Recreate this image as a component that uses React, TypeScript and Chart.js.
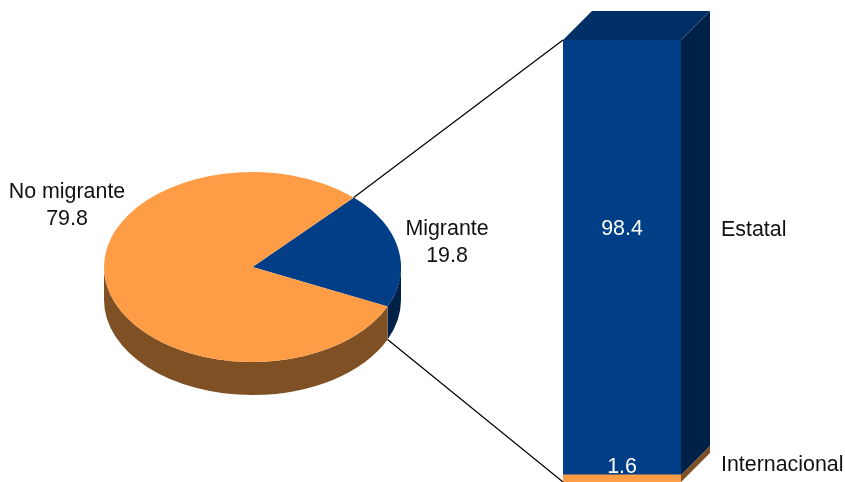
import React, { useEffect, useRef } from "react";
import { Chart, registerables } from "chart.js";

Chart.register(...registerables);

const pieCategories = ["Migrante", "No migrante"];
const pieValues = [19.8, 79.8];
const barCategories = ["Internacional", "Estatal"];
const barValues = [1.6, 98.4];

const FONT = '"Liberation Sans", Arial, sans-serif';
const TEXT = "#111";
const FRONT = ["#FF9D47", "#003F87"];
const SIDE = ["#7F5024", "#002147"];
const TOP_FACE = "#002F66";
const PIE_FRONT = ["#003F87", "#FF9D47"];
const PIE_SIDE = ["#002147", "#7F5024"];
const PIE_DEPTH = 33;
const Y_RATIO = 95 / 148.5;
const BAR_DEPTH = 29;
const FONT_SIZE = 21.4;

function text(ctx: CanvasRenderingContext2D, s: string, x: number, y: number, align: CanvasTextAlign, color = TEXT) {
  ctx.save();
  ctx.font = `${FONT_SIZE}px ${FONT}`;
  ctx.fillStyle = color;
  ctx.textAlign = align;
  ctx.textBaseline = "middle";
  ctx.fillText(s, x, y);
  ctx.restore();
}

const pie3d = {
  id: "pie3d",
  beforeDatasetsDraw(chart: any) {
    const ctx = chart.ctx;
    const arcs = chart.getDatasetMeta(0).data;
    arcs.forEach((arc: any, i: number) => {
      const lo = Math.max(arc.startAngle, 0);
      const hi = Math.min(arc.endAngle, Math.PI);
      if (hi <= lo) return;
      const rx = arc.outerRadius;
      const ry = rx * Y_RATIO;
      ctx.save();
      ctx.beginPath();
      ctx.ellipse(arc.x, arc.y, rx, ry, 0, lo, hi);
      ctx.ellipse(arc.x, arc.y + PIE_DEPTH, rx, ry, 0, hi, lo, true);
      ctx.closePath();
      ctx.fillStyle = PIE_SIDE[i];
      ctx.fill();
      ctx.restore();
    });
    const cy = arcs[0].y;
    ctx.save();
    ctx.translate(0, cy);
    ctx.scale(1, Y_RATIO);
    ctx.translate(0, -cy);
  },
  afterDatasetsDraw(chart: any) {
    const ctx = chart.ctx;
    ctx.restore();
    text(ctx, pieCategories[1], 67, 192, "center");
    text(ctx, pieValues[1].toFixed(1), 67, 219, "center");
    text(ctx, pieCategories[0], 447, 229, "center");
    text(ctx, pieValues[0].toFixed(1), 447, 256, "center");
  },
};

function makeBar3d(getPie: () => any) {
  return {
    id: "bar3d",
    beforeDatasetsDraw(chart: any) {
      const ctx = chart.ctx;
      const y = chart.scales.y;
      const rects = chart.data.datasets.map((_: any, i: number) => chart.getDatasetMeta(i).data[0]);
      const half = rects[0].width / 2;
      const left = rects[0].x - half;
      const right = rects[0].x + half;
      let base = 0;
      rects.forEach((_: any, i: number) => {
        const bottom = y.getPixelForValue(base);
        base += barValues[i];
        const top = y.getPixelForValue(base);
        ctx.fillStyle = SIDE[i];
        ctx.beginPath();
        ctx.moveTo(right, bottom);
        ctx.lineTo(right + BAR_DEPTH, bottom - BAR_DEPTH);
        ctx.lineTo(right + BAR_DEPTH, top - BAR_DEPTH);
        ctx.lineTo(right, top);
        ctx.closePath();
        ctx.fill();
      });
      const top = y.getPixelForValue(base);
      ctx.fillStyle = TOP_FACE;
      ctx.beginPath();
      ctx.moveTo(left, top);
      ctx.lineTo(left + BAR_DEPTH, top - BAR_DEPTH);
      ctx.lineTo(right + BAR_DEPTH, top - BAR_DEPTH);
      ctx.lineTo(right, top);
      ctx.closePath();
      ctx.fill();
    },
    afterDatasetsDraw(chart: any) {
      const ctx = chart.ctx;
      const y = chart.scales.y;
      const rect = chart.getDatasetMeta(0).data[0];
      const left = rect.x - rect.width / 2;
      const pieChart = getPie();
      const arc = pieChart.getDatasetMeta(0).data[0];
      const rx = arc.outerRadius;
      const ry = rx * Y_RATIO;
      const p1 = [arc.x + rx * Math.cos(arc.startAngle), arc.y + ry * Math.sin(arc.startAngle)];
      const p2 = [arc.x + rx * Math.cos(arc.endAngle), arc.y + ry * Math.sin(arc.endAngle) + PIE_DEPTH];
      ctx.save();
      ctx.strokeStyle = "#000";
      ctx.lineWidth = 1.2;
      ctx.beginPath();
      ctx.moveTo(p1[0], p1[1]);
      ctx.lineTo(left, y.getPixelForValue(100));
      ctx.moveTo(p2[0], p2[1]);
      ctx.lineTo(left, y.getPixelForValue(0));
      ctx.stroke();
      ctx.restore();
      text(ctx, barValues[1].toFixed(1), rect.x, 229, "center", "#fff");
      text(ctx, barValues[0].toFixed(1), rect.x, 467, "center", "#fff");
      text(ctx, barCategories[1], 721, 230, "left");
      text(ctx, barCategories[0], 721, 465, "left");
    },
  };
}

export default function App() {
  const pieRef = useRef<HTMLCanvasElement>(null);
  const barRef = useRef<HTMLCanvasElement>(null);

  useEffect(() => {
    const pie = new Chart(pieRef.current!, {
      type: "pie",
      data: {
        labels: pieCategories,
        datasets: [{ data: pieValues, backgroundColor: PIE_FRONT, borderWidth: 0 }],
      },
      options: {
        responsive: false,
        animation: false,
        events: [],
        rotation: 43,
        layout: { padding: { left: 104, right: 444, top: 118.5, bottom: 66.5 } },
        plugins: { legend: { display: false }, tooltip: { enabled: false } },
      },
      plugins: [pie3d],
    } as any);

    const bar = new Chart(barRef.current!, {
      type: "bar",
      data: {
        labels: ["Migrante"],
        datasets: barCategories.map((c, i) => ({
          label: c,
          data: [barValues[i]],
          backgroundColor: FRONT[i],
          borderWidth: 0,
          barPercentage: 1,
          categoryPercentage: 1,
        })),
      },
      options: {
        responsive: false,
        animation: false,
        events: [],
        layout: { padding: { left: 563, right: 164, top: 40, bottom: 0 } },
        scales: {
          x: { stacked: true, display: false },
          y: { stacked: true, display: false, min: 0, max: 100 },
        },
        plugins: { legend: { display: false }, tooltip: { enabled: false } },
      },
      plugins: [makeBar3d(() => pie)],
    } as any);

    return () => {
      bar.destroy();
      pie.destroy();
    };
  }, []);

  const style: React.CSSProperties = { position: "absolute", left: 0, top: 0, display: "block" };
  return (
    <div style={{ position: "fixed", left: 0, top: 0, width: 845, height: 482, background: "#fff" }}>
      <canvas ref={pieRef} width={845} height={482} style={style} />
      <canvas ref={barRef} width={845} height={482} style={style} />
    </div>
  );
}
